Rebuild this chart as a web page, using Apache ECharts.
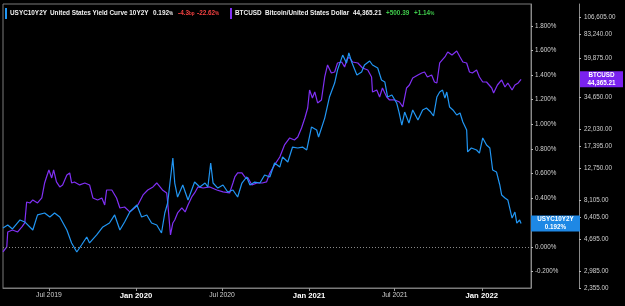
<!DOCTYPE html>
<html>
<head>
<meta charset="utf-8">
<script src="https://cdn.jsdelivr.net/npm/echarts@6/dist/echarts.min.js"></script>
<style>html,body{margin:0;padding:0;background:#000;}#c{width:625px;height:306px;}</style>
</head>
<body>
<div id="c"></div>
<script>
const yieldDates = ['2019-03-26','2019-04-05','2019-04-15','2019-05-01','2019-05-11','2019-05-28','2019-06-07','2019-06-22','2019-07-03','2019-07-13','2019-07-24','2019-08-08','2019-08-18','2019-08-29','2019-09-08','2019-09-19','2019-09-25','2019-10-10','2019-10-23','2019-11-06','2019-11-17','2019-11-28','2019-12-08','2019-12-19','2020-01-03','2020-01-13','2020-01-24','2020-02-03','2020-02-14','2020-02-24','2020-03-02','2020-03-08','2020-03-19','2020-03-23','2020-03-29','2020-04-09','2020-04-20','2020-05-04','2020-05-15','2020-05-26','2020-06-01','2020-06-07','2020-06-12','2020-06-22','2020-07-03','2020-07-13','2020-07-24','2020-08-03','2020-08-12','2020-08-22','2020-08-29','2020-09-08','2020-09-19','2020-09-29','2020-10-10','2020-10-20','2020-10-31','2020-11-06','2020-11-17','2020-11-27','2020-12-08','2020-12-18','2020-12-27','2021-01-06','2021-01-17','2021-01-21','2021-02-03','2021-02-13','2021-02-24','2021-03-02','2021-03-13','2021-03-21','2021-03-26','2021-04-01','2021-04-12','2021-04-22','2021-04-28','2021-05-09','2021-05-15','2021-05-26','2021-06-03','2021-06-10','2021-06-16','2021-06-25','2021-07-05','2021-07-10','2021-07-16','2021-07-22','2021-07-31','2021-08-08','2021-08-19','2021-08-29','2021-09-06','2021-09-15','2021-09-21','2021-09-28','2021-10-04','2021-10-10','2021-10-15','2021-10-19','2021-10-25','2021-11-01','2021-11-09','2021-11-16','2021-11-22','2021-11-30','2021-12-02','2021-12-10','2021-12-21','2021-12-27','2022-01-03','2022-01-11','2022-01-18','2022-01-24','2022-02-01','2022-02-08','2022-02-12','2022-02-19','2022-02-25','2022-03-06','2022-03-12','2022-03-16','2022-03-22','2022-03-25'];
const yieldValues = [0.155,0.179,0.147,0.220,0.204,0.138,0.261,0.277,0.244,0.277,0.244,0.138,0.033,-0.041,0.016,0.081,0.033,0.098,0.163,0.195,0.261,0.138,0.204,0.285,0.342,0.244,0.261,0.195,0.179,0.114,0.277,0.358,0.725,0.521,0.407,0.505,0.383,0.529,0.489,0.521,0.489,0.684,0.521,0.480,0.505,0.448,0.464,0.407,0.521,0.570,0.505,0.529,0.521,0.586,0.570,0.684,0.651,0.733,0.692,0.814,0.806,0.814,0.790,0.977,0.953,0.896,1.050,1.221,1.335,1.441,1.563,1.498,1.580,1.506,1.401,1.425,1.482,1.515,1.482,1.458,1.360,1.344,1.221,1.238,1.173,1.099,0.993,1.099,1.010,1.116,1.034,1.116,1.132,1.099,1.067,1.221,1.262,1.278,1.213,1.262,1.140,1.116,1.075,1.091,1.018,0.953,0.774,0.806,0.790,0.765,0.888,0.831,0.806,0.627,0.611,0.505,0.423,0.399,0.383,0.236,0.285,0.195,0.220,0.192];

const btcDates = ['2019-03-26','2019-04-03','2019-04-05','2019-04-15','2019-04-26','2019-05-05','2019-05-11','2019-05-15','2019-05-22','2019-05-28','2019-06-07','2019-06-16','2019-06-22','2019-06-26','2019-07-01','2019-07-07','2019-07-11','2019-07-17','2019-07-24','2019-07-30','2019-08-08','2019-08-14','2019-08-18','2019-08-24','2019-09-04','2019-09-15','2019-09-25','2019-10-02','2019-10-12','2019-10-21','2019-10-27','2019-10-31','2019-11-11','2019-11-21','2019-11-28','2019-12-08','2019-12-19','2019-12-29','2020-01-05','2020-01-16','2020-01-26','2020-02-06','2020-02-14','2020-02-26','2020-03-06','2020-03-08','2020-03-14','2020-03-19','2020-03-23','2020-03-29','2020-04-07','2020-04-14','2020-04-20','2020-04-28','2020-05-04','2020-05-11','2020-05-22','2020-06-05','2020-06-20','2020-07-03','2020-07-17','2020-07-24','2020-07-28','2020-08-03','2020-08-12','2020-08-18','2020-08-25','2020-09-02','2020-09-13','2020-09-24','2020-10-03','2020-10-10','2020-10-20','2020-10-31','2020-11-10','2020-11-21','2020-12-01','2020-12-08','2020-12-16','2020-12-23','2020-12-29','2021-01-02','2021-01-08','2021-01-13','2021-01-19','2021-01-27','2021-02-03','2021-02-09','2021-02-17','2021-02-24','2021-03-02','2021-03-11','2021-03-17','2021-03-23','2021-03-28','2021-04-03','2021-04-14','2021-04-24','2021-05-05','2021-05-13','2021-05-15','2021-05-24','2021-05-30','2021-06-05','2021-06-14','2021-06-20','2021-07-01','2021-07-11','2021-07-18','2021-07-26','2021-08-01','2021-08-08','2021-08-19','2021-08-27','2021-09-02','2021-09-08','2021-09-17','2021-09-23','2021-09-28','2021-10-04','2021-10-15','2021-10-21','2021-10-30','2021-11-09','2021-11-16','2021-11-22','2021-11-30','2021-12-06','2021-12-12','2021-12-21','2021-12-27','2022-01-03','2022-01-11','2022-01-22','2022-01-26','2022-02-03','2022-02-12','2022-02-19','2022-02-25','2022-03-06','2022-03-12','2022-03-19','2022-03-25'];
const btcValues = [3910,4200,5180,5330,5180,5560,5880,7900,7790,8130,7790,8360,10320,11230,12390,11080,12390,10470,9760,10040,11550,11880,10320,10470,10040,10320,10040,8360,8130,8360,7580,9350,9350,8360,7260,7360,6870,7260,7580,8720,9350,9760,10320,9350,8970,7900,4970,5880,6130,6770,7260,6870,7580,8480,8970,9760,9620,9760,9350,9100,8970,10320,11230,11880,11880,11230,11080,10040,10320,10320,10470,11880,13300,14880,17620,19440,18900,19710,22370,25750,29640,38190,34120,37130,31810,33180,45850,54280,48500,49180,55830,56620,52780,59900,59900,56620,55830,52040,50580,45850,37130,38190,34600,39270,34600,33180,33180,32260,30060,39270,40960,45210,47150,48500,49180,45850,47150,42730,42130,55830,60760,65170,62490,66100,60760,56620,55830,49180,48500,50580,45850,42730,42730,39270,36610,40960,43950,39830,42130,38190,40960,42130,44365.21];

const pctTicks = [-0.2, 0, 0.2, 0.4, 0.6, 0.8, 1.0, 1.2, 1.4, 1.6, 1.8];
const btcTicks = [2355, 2985, 4695, 6405, 8105, 12750, 17395, 22030, 34650, 59875, 83240, 106605];
const timeTicks = ['2019-07-01', '2020-01-01', '2020-07-01', '2021-01-01', '2021-07-01', '2022-01-01'];
const monthNames = ['Jan','Feb','Mar','Apr','May','Jun','Jul','Aug','Sep','Oct','Nov','Dec'];

const FONT = 'Liberation Sans';
const BLUE = '#2196f3';
const PURPLE = '#8030f4';

function ts(d) { return Date.parse(d + 'T00:00:00Z'); }
function fmtNum(v) {
  return v.toLocaleString('en-US', {minimumFractionDigits: 2, maximumFractionDigits: 2});
}

const chart = echarts.init(document.getElementById('c'), null, {renderer: 'canvas'});
const timeTickNums = timeTicks.map(ts);

const option = {
  backgroundColor: '#000',
  animation: false,
  textStyle: {fontFamily: FONT},
  grid: {left: 3, right: 94, top: 4, bottom: 18, show: true, borderColor: '#7a7a7a', borderWidth: 1, backgroundColor: 'transparent'},
  xAxis: {
    type: 'value',
    min: ts('2019-03-26'),
    max: ts('2022-04-15'),
    axisLine: {show: true, onZero: false, lineStyle: {color: '#7a7a7a'}},
    axisTick: {show: true, length: 3, lineStyle: {color: '#9a9a9a'}, customValues: timeTickNums},
    splitLine: {show: false},
    axisLabel: {
      customValues: timeTickNums,
      margin: 4,
      formatter: function (v) {
        const d = new Date(v);
        const s = monthNames[d.getUTCMonth()] + ' ' + d.getUTCFullYear();
        return d.getUTCMonth() === 0 ? '{b|' + s + '}' : '{n|' + s + '}';
      },
      rich: {
        b: {fontSize: 7.7, fontWeight: 'bold', color: '#ffffff', fontFamily: FONT},
        n: {fontSize: 6.8, color: '#cfcfcf', fontFamily: FONT}
      }
    }
  },
  yAxis: [
    {
      type: 'value',
      position: 'right',
      min: -0.334,
      max: 1.979,
      axisLine: {show: true, onZero: false, lineStyle: {color: '#8a8a8a'}},
      axisTick: {show: true, length: 2, lineStyle: {color: '#bbbbbb'}, customValues: pctTicks},
      splitLine: {show: false},
      axisLabel: {
        customValues: pctTicks,
        margin: 4,
        fontSize: 6.3,
        color: '#d0d0d0',
        fontFamily: FONT,
        formatter: function (v) { return v.toFixed(3) + '%'; }
      }
    },
    {
      type: 'log',
      logBase: 10,
      position: 'right',
      offset: 48,
      min: 2355,
      max: 128000,
      axisLine: {show: true, onZero: false, lineStyle: {color: '#8a8a8a'}},
      axisTick: {show: true, length: 2, lineStyle: {color: '#bbbbbb'}, customValues: btcTicks},
      splitLine: {show: false},
      axisLabel: {
        customValues: btcTicks,
        margin: 5,
        fontSize: 6.3,
        color: '#d0d0d0',
        fontFamily: FONT,
        formatter: function (v) { return fmtNum(v); }
      }
    }
  ],
  series: [
    {
      name: 'USYC10Y2Y',
      type: 'line',
      yAxisIndex: 0,
      showSymbol: false,
      symbol: 'none',
      lineStyle: {color: BLUE, width: 1.2},
      data: yieldDates.map((d, i) => [ts(d), yieldValues[i]]),
      markLine: {
        silent: true,
        symbol: 'none',
        label: {show: false},
        lineStyle: {type: [1, 2], color: '#8a8a8a', width: 1},
        data: [{yAxis: 0}]
      },
      z: 3
    },
    {
      name: 'BTCUSD',
      type: 'line',
      yAxisIndex: 1,
      showSymbol: false,
      symbol: 'none',
      lineStyle: {color: PURPLE, width: 1.2},
      data: btcDates.map((d, i) => [ts(d), btcValues[i]]),
      z: 2
    }
  ]
};
chart.setOption(option);

const lastYield = yieldValues[yieldValues.length - 1];
const lastBtc = btcValues[btcValues.length - 1];
const yY = chart.convertToPixel({yAxisIndex: 0}, lastYield);
const yB = chart.convertToPixel({yAxisIndex: 1}, lastBtc);

function hText(x, text, fill, rich) {
  return {type: 'text', x: x, y: 13.5, z: 10, style: {text: text, fill: fill, font: 'bold 6.4px "' + FONT + '"', align: 'left', verticalAlign: 'middle', rich: rich || {}}};
}
const smallRich = function (c) { return {s: {fontSize: 4.6, fontWeight: 'bold', fill: c, fontFamily: FONT, verticalAlign: 'bottom'}}; };

chart.setOption({
  graphic: [
    {type: 'rect', shape: {x: 5, y: 8, width: 2, height: 11}, style: {fill: BLUE}, z: 10},
    hText(10, 'USYC10Y2Y', '#f0f0f0'),
    hText(50, 'United States Yield Curve 10Y2Y', '#f0f0f0'),
    hText(153, '0.192{s|%}', '#f0f0f0', smallRich('#f0f0f0')),
    hText(178, '-4.3{s|bp}', '#f24040', smallRich('#f24040')),
    hText(197, '-22.62{s|%}', '#f24040', smallRich('#f24040')),
    {type: 'rect', shape: {x: 230, y: 8, width: 2, height: 11}, style: {fill: PURPLE}, z: 10},
    hText(235, 'BTCUSD', '#f0f0f0'),
    hText(265, 'Bitcoin/United States Dollar', '#f0f0f0'),
    hText(353, '44,365.21', '#f0f0f0'),
    hText(386, '+500.39', '#3ec94a'),
    hText(414, '+1.14{s|%}', '#3ec94a', smallRich('#3ec94a')),
    {type: 'rect', shape: {x: 531, y: yY - 8, width: 49, height: 16}, style: {fill: '#1e88e5'}, z: 10},
    {type: 'text', x: 555.5, y: yY, z: 11, style: {text: 'USYC10Y2Y\n' + lastYield.toFixed(3) + '%', fill: '#ffffff', font: 'bold 6.3px "' + FONT + '"', align: 'center', verticalAlign: 'middle', lineHeight: 7.5}},
    {type: 'rect', shape: {x: 580, y: yB - 8, width: 43, height: 16}, style: {fill: '#7a22f0'}, z: 10},
    {type: 'text', x: 601.5, y: yB, z: 11, style: {text: 'BTCUSD\n' + fmtNum(lastBtc), fill: '#ffffff', font: 'bold 6.3px "' + FONT + '"', align: 'center', verticalAlign: 'middle', lineHeight: 7.5}}
  ]
});
</script>
</body>
</html>
